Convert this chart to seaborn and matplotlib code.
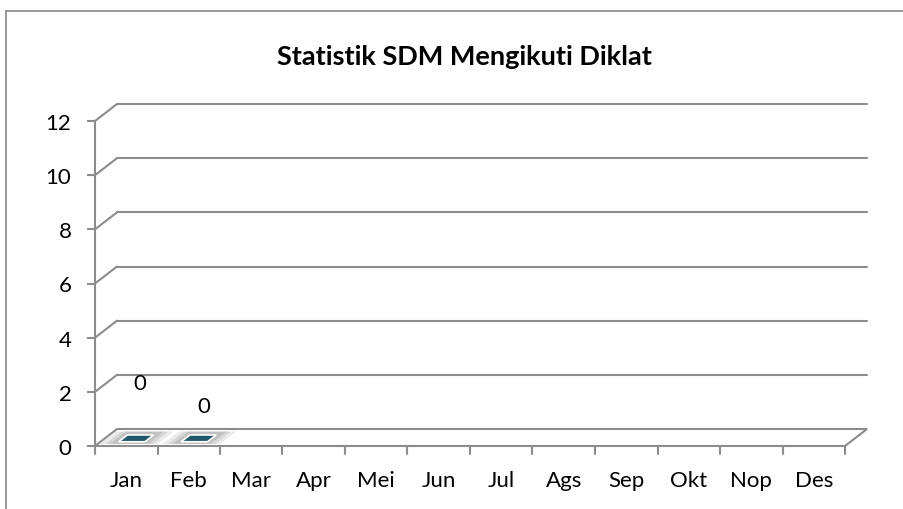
import numpy as np
import pandas as pd
import matplotlib
matplotlib.use("Agg")
import matplotlib.pyplot as plt
import matplotlib.transforms as mtransforms
from matplotlib.patches import Polygon
from matplotlib.lines import Line2D
import seaborn as sns

# ---- data ----
months = ["Jan", "Feb", "Mar", "Apr", "Mei", "Jun", "Jul", "Ags", "Sep", "Okt", "Nop", "Des"]
values = [0, 0, None, None, None, None, None, None, None, None, None, None]
y_ticks = [0, 2, 4, 6, 8, 10, 12]
title = "Statistik SDM Mengikuti Diklat"

sns.set_theme(style="white")
plt.rcParams["font.family"] = ["Lato", "DejaVu Sans"]

GRID = "#8c8c8c"
BAR = "#22596a"
DX, DY = 22, 17  # depth offset in pixels

fig = plt.figure(figsize=(9.04, 5.10), dpi=100)
W, H = 904, 510
ax = fig.add_axes([95 / W, (H - 447) / H, 750 / W, 325 / H])

df = pd.DataFrame({"month": months, "value": values}).dropna()
sns.barplot(data=df, x="month", y="value", order=months, color=BAR,
            width=0.42, ax=ax, errorbar=None)

ax.set_xlim(-0.5, len(months) - 0.5)
ax.set_ylim(0, max(y_ticks))
ax.set_xlabel("")
ax.set_ylabel("")
for s in ["top", "right", "bottom"]:
    ax.spines[s].set_visible(False)
ax.spines["left"].set_color(GRID)
ax.spines["left"].set_linewidth(1.5)
ax.spines["left"].set_zorder(5)

off = mtransforms.offset_copy(ax.transData, fig=fig, x=DX, y=DY, units="dots")
x0, x1 = -0.5, len(months) - 0.5

def disp(x, y, o=0.0):
    p = ax.transData.transform((x, y))
    return (p[0] + DX * o, p[1] + DY * o)

inv = fig.transFigure.inverted()
def fpt(x, y, o=0.0):
    return inv.transform(disp(x, y, o))

floor = Polygon([fpt(x0, 0), fpt(x1, 0), fpt(x1, 0, 1), fpt(x0, 0, 1)],
                closed=True, facecolor="white", edgecolor=GRID, linewidth=1.5,
                transform=fig.transFigure, zorder=1)
fig.add_artist(floor)

# back wall gridlines with left diagonals
for yv in y_ticks[1:]:
    ax.plot([x0, x1], [yv, yv], color=GRID, lw=1.5, transform=off, clip_on=False, zorder=1)
    a = fpt(x0, yv); b = fpt(x0, yv, 1)
    fig.add_artist(Line2D([a[0], b[0]], [a[1], b[1]], color=GRID, lw=1.5,
                          transform=fig.transFigure, zorder=1))

# flat bars on floor (value 0) from seaborn's bar positions
for p in ax.patches:
    cx = p.get_x() + p.get_width() / 2
    w = p.get_width()
    h = p.get_height()
    if np.isnan(h):
        continue
    p.set_visible(False)
    for k, a_ in zip([2.2, 1.8, 1.45], [0.12, 0.14, 0.18]):
        ww = w * k / 2
        sh = Polygon([fpt(cx - ww, h, 0.12), fpt(cx + ww, h, 0.12),
                      fpt(cx + ww, h, 0.85), fpt(cx - ww, h, 0.85)],
                     closed=True, facecolor="#606060", alpha=a_, edgecolor="none",
                     transform=fig.transFigure, zorder=2)
        fig.add_artist(sh)
    top = Polygon([fpt(cx - w / 2, h, 0.25), fpt(cx + w / 2, h, 0.25),
                   fpt(cx + w / 2, h, 0.65), fpt(cx - w / 2, h, 0.65)],
                  closed=True, facecolor=BAR, edgecolor="white", linewidth=1.2,
                  transform=fig.transFigure, zorder=3)
    fig.add_artist(top)

# data labels
label_offsets = [(14, 63), (15, 40)]  # pixel offsets from bar base
for i, v in enumerate(values):
    if v is None:
        continue
    dx, dy = label_offsets[i]
    ax.annotate(f"{v:g}", xy=(i, v), xytext=(dx * 0.72, dy * 0.72),
                textcoords="offset points", ha="center", va="center",
                fontsize=16, color="black", annotation_clip=False, zorder=6)

# ticks
ax.set_yticks(y_ticks)
ax.set_yticklabels([str(t) for t in y_ticks])
ax.set_xticks(range(len(months)))
ax.set_xticklabels(months)
ax.tick_params(axis="y", left=True, length=6, width=1.5, color=GRID,
               labelsize=16, pad=11, labelcolor="black")
ax.tick_params(axis="x", bottom=False, labelsize=16, pad=11, labelcolor="black")
for b in np.arange(len(months) + 1) - 0.5:
    a = fpt(b, 0)
    fig.add_artist(Line2D([a[0], a[0]], [a[1], a[1] - 8 / H], color=GRID, lw=1.5,
                          transform=fig.transFigure, zorder=4))

# title
fig.text(464 / W, 1 - 57 / H, title, ha="center", va="center",
         fontsize=19.5, fontweight="bold", color="black")

# chart frame (partially visible)
fig.add_artist(Line2D([6 / W, 1], [1 - 12 / H, 1 - 12 / H], color="#888888", lw=1.2,
                      transform=fig.transFigure))
fig.add_artist(Line2D([6 / W, 6 / W], [1 - 12 / H, 0], color="#888888", lw=1.2,
                      transform=fig.transFigure))

fig.savefig("out.png", dpi=100, facecolor="white")
